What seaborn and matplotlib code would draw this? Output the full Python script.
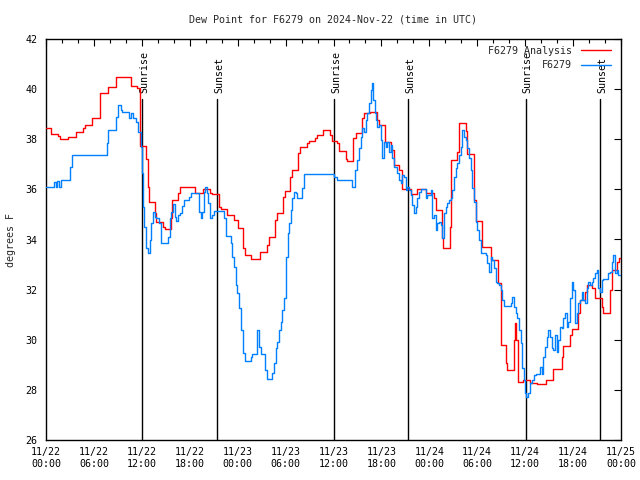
import matplotlib
matplotlib.use("Agg")
import matplotlib.pyplot as plt
import matplotlib.dates as mdates
import seaborn as sns
import pandas as pd

START = pd.Timestamp("2024-11-22 00:00")

# F6279 Analysis (hours since start, dew point F)
analysis_hours = [
    0.0, 0.66, 1.5, 1.75, 2.75, 3.72, 4.67, 4.85, 5.8, 6.7, 6.76, 7.76, 8.73,
    10.68, 11.43, 11.73, 12.56, 12.81, 12.9, 13.61, 13.81, 14.65, 14.86, 15.61,
    15.82, 16.53, 16.78, 18.62, 19.66, 20.5, 20.82, 21.66, 21.88, 22.7, 23.54,
    24.04, 24.67, 24.88, 25.71, 26.8, 27.64, 27.92, 28.64, 28.89, 29.64, 29.89,
    30.55, 30.84, 31.56, 31.81, 32.64, 32.93, 33.65, 33.9, 34.72, 35.56, 35.85,
    36.48, 36.69, 37.53, 37.73, 38.48, 38.78, 39.61, 39.82, 40.57, 41.41, 41.7,
    42.45, 43.24, 43.58, 44.2, 44.62, 45.67, 46.5, 47.55, 48.59, 48.8, 49.62,
    49.75, 50.55, 50.68, 51.5, 51.72, 52.55, 52.76, 53.59, 53.8, 54.55, 55.76,
    56.6, 56.94, 57.56, 57.76, 58.6, 58.73, 58.9, 59.1, 59.69, 60.6, 61.45,
    62.6, 63.52, 64.57, 64.78, 65.62, 65.83, 66.66, 66.87, 67.49, 67.7, 68.33,
    68.75, 69.58, 69.79, 70.63, 70.84, 71.54, 71.79, 71.9,
]
analysis_dewpt = [
    38.44, 38.2, 38.13, 38.0, 38.08, 38.3, 38.44, 38.57, 38.84, 39.63, 39.83,
    40.07, 40.47, 40.14, 40.03, 37.73, 37.2, 36.08, 35.48, 35.04, 34.71, 34.5,
    34.42, 34.85, 35.58, 35.85, 36.08, 35.87, 36.0, 35.87, 35.8, 35.31, 35.2,
    34.98, 34.78, 34.47, 33.65, 33.38, 33.22, 33.49, 33.78, 34.09, 34.78, 35.04,
    35.71, 35.93, 36.5, 36.77, 37.44, 37.68, 37.84, 37.94, 38.04, 38.17, 38.37,
    38.17, 37.93, 37.84, 37.53, 37.2, 37.13, 38.04, 38.26, 38.84, 39.03, 39.07,
    38.77, 38.57, 37.9, 37.57, 36.97, 36.77, 36.01, 35.8, 36.0, 35.84, 35.64,
    35.18, 34.05, 33.67, 34.51, 37.17, 37.5, 38.64, 38.34, 37.41, 35.58, 34.74,
    33.69, 33.18, 32.25, 29.79, 29.08, 28.79, 29.99, 30.65, 29.99, 28.32, 28.4,
    28.26, 28.22, 28.39, 28.82, 29.32, 29.75, 30.19, 30.43, 31.05, 31.58, 31.92,
    32.18, 32.05, 31.65, 31.32, 31.05, 31.98, 32.78, 33.11, 33.25, 33.25,
]

# F6279 observations
obs_hours = [
    0.0, 1.0, 1.21, 1.42, 1.63, 1.84, 3.0, 3.29, 7.6, 7.76, 8.73, 9.02, 9.35,
    9.55, 10.39, 10.68, 10.93, 11.23, 11.52, 11.86, 11.98, 12.15, 12.27, 12.56,
    12.77, 13.02, 13.19, 13.44, 13.61, 13.81, 14.15, 14.36, 15.28, 15.53, 15.69,
    15.94, 16.11, 16.28, 16.53, 16.78, 17.07, 17.28, 17.91, 18.12, 19.16, 19.37,
    19.57, 19.78, 19.91, 20.12, 20.32, 20.54, 20.82, 21.04, 22.29, 22.5, 23.13,
    23.33, 23.54, 23.75, 23.88, 24.17, 24.46, 24.67, 24.88, 25.63, 25.83, 26.46,
    26.67, 26.88, 27.38, 27.64, 28.34, 28.55, 28.76, 28.96, 29.18, 29.39, 29.59,
    29.8, 30.01, 30.3, 30.43, 30.64, 30.84, 31.05, 31.27, 31.47, 32.09, 32.31,
    36.06, 36.4, 38.35, 38.65, 38.9, 39.19, 39.4, 39.61, 39.82, 40.03, 40.24,
    40.45, 40.66, 40.86, 40.99, 41.16, 41.29, 41.49, 41.7, 41.91, 42.11, 42.32,
    42.54, 42.74, 42.95, 43.16, 43.36, 43.58, 43.99, 44.2, 44.42, 44.62, 44.83,
    45.04, 45.24, 45.45, 45.66, 45.86, 46.08, 46.29, 46.5, 46.71, 46.92, 47.55,
    47.75, 48.17, 48.37, 48.58, 48.8, 49.0, 49.21, 49.42, 49.62, 49.83, 50.04,
    50.25, 50.46, 50.68, 50.88, 51.09, 51.3, 51.5, 51.72, 51.93, 52.13, 52.34,
    52.55, 52.76, 52.97, 53.18, 53.38, 53.59, 53.8, 54.0, 54.21, 54.42, 55.05,
    55.26, 55.47, 55.67, 55.88, 56.1, 56.3, 56.5, 56.72, 56.94, 57.14, 57.35,
    58.19, 58.39, 58.6, 58.81, 59.02, 59.23, 59.44, 59.64, 59.86, 60.0, 60.1,
    60.4, 60.61, 60.82, 61.11, 61.36, 61.86, 62.07, 62.28, 62.49, 62.69, 62.9,
    63.11, 63.32, 63.53, 63.74, 63.95, 64.15, 64.36, 64.57, 64.78, 64.99, 65.2,
    65.41, 65.62, 65.83, 66.03, 66.24, 66.45, 66.66, 66.87, 67.08, 67.29, 67.49,
    67.7, 67.91, 68.12, 68.33, 68.54, 68.75, 68.95, 69.16, 69.37, 69.58, 69.79,
    70.41, 70.62, 70.83, 71.04, 71.25, 71.46, 71.67, 71.88,
]
obs_dewpt = [
    36.08, 36.31, 36.08, 36.34, 36.08, 36.37, 36.9, 37.37, 37.84, 38.37, 38.9,
    39.37, 39.17, 39.07, 38.84, 39.04, 38.84, 38.7, 38.3, 37.7, 36.64, 35.31,
    34.51, 33.65, 33.47, 33.98, 34.65, 35.11, 34.91, 34.85, 34.65, 33.86, 34.11,
    34.85, 35.11, 35.42, 34.88, 34.75, 34.98, 35.04, 35.34, 35.58, 35.71, 35.84,
    35.11, 34.85, 35.11, 35.91, 36.08, 35.84, 35.44, 34.85, 34.98, 35.14, 34.85,
    34.14, 33.85, 33.31, 32.91, 32.18, 31.85, 31.25, 30.39, 29.46, 29.15, 29.32,
    29.42, 30.39, 29.72, 29.42, 28.79, 28.43, 28.66, 29.06, 29.66, 29.92, 30.39,
    30.7, 31.19, 31.65, 33.31, 34.25, 34.65, 35.18, 35.64, 35.91, 35.84, 35.67,
    36.04, 36.61, 36.5, 36.37, 36.08, 36.77, 37.17, 37.64, 38.1, 38.44, 38.3,
    38.77, 39.04, 39.43, 39.96, 40.23, 39.57, 39.04, 38.77, 38.5, 38.57, 37.97,
    37.24, 37.9, 37.7, 37.9, 37.5, 37.77, 37.24, 36.9, 36.64, 36.37, 36.24,
    36.57, 36.5, 35.97, 36.11, 35.97, 35.77, 35.38, 35.04, 35.31, 35.64, 35.9,
    36.0, 35.64, 35.77, 35.97, 34.85, 34.98, 34.38, 34.65, 34.71, 34.58, 34.05,
    35.04, 35.31, 35.44, 35.58, 35.64, 35.97, 36.5, 36.84, 37.04, 37.37, 37.7,
    38.37, 38.1, 37.97, 37.64, 37.24, 36.77, 36.04, 35.51, 34.71, 34.38, 33.98,
    33.45, 33.38, 33.05, 32.71, 33.31, 33.18, 32.85, 32.31, 32.25, 32.18, 31.98,
    31.58, 31.35, 31.45, 31.69, 31.32, 31.05, 30.85, 30.39, 29.86, 28.86, 28.4,
    27.86, 27.7, 27.86, 28.26, 28.39, 28.59, 28.63, 28.92, 28.63, 29.32, 29.72,
    30.12, 30.39, 30.12, 29.66, 29.59, 30.19, 29.52, 29.99, 30.52, 30.45, 30.85,
    31.05, 30.52, 30.72, 31.65, 32.31, 31.98, 30.65, 31.05, 31.45, 31.58, 31.92,
    31.58, 31.45, 32.05, 32.31, 32.18, 32.31, 32.45, 32.65, 32.78, 32.05, 31.92,
    32.38, 32.41, 32.68, 32.72, 33.11, 33.38, 32.65, 32.78, 32.58, 32.58,
]

# sunrise / sunset markers (hours since start)
sun_hours = [12.06, 21.45, 36.1, 45.37, 60.07, 69.41]
sun_labels = ["Sunrise", "Sunset", "Sunrise", "Sunset", "Sunrise", "Sunset"]

y_ticks = [26, 28, 30, 32, 34, 36, 38, 40, 42]

sns.set_theme(style="white")
plt.rcParams["font.family"] = ["DejaVu Sans Mono"]
plt.rcParams["font.size"] = 7.2

df_a = pd.DataFrame({"time": START + pd.to_timedelta(analysis_hours, unit="h"),
                     "dewpt": analysis_dewpt})
df_o = pd.DataFrame({"time": START + pd.to_timedelta(obs_hours, unit="h"),
                     "dewpt": obs_dewpt})

fig = plt.figure(figsize=(6.4, 4.8), dpi=100)
ax = fig.add_axes([46 / 640, 40 / 480, 575 / 640, 401 / 480])

for h, lab in zip(sun_hours, sun_labels):
    t = START + pd.Timedelta(hours=h)
    ax.plot([t, t], [26, 39.6], color="black", lw=1.0, zorder=1)
    ax.text(t + pd.Timedelta(hours=0.25), 39.85, lab, rotation=90,
            ha="center", va="bottom", fontsize=7.2, color="black", zorder=1)

sns.lineplot(data=df_a, x="time", y="dewpt", ax=ax, color="#ff0000", lw=1.0,
             drawstyle="steps-post", estimator=None, sort=False,
             label="F6279 Analysis", zorder=3)
sns.lineplot(data=df_o, x="time", y="dewpt", ax=ax, color="#0080ff", lw=1.0,
             drawstyle="steps-post", estimator=None, sort=False,
             label="F6279", zorder=4)

ax.set_xlim(START, START + pd.Timedelta(hours=72))
ax.set_ylim(26, 42)
ax.set_yticks(y_ticks)
ax.xaxis.set_major_locator(mdates.HourLocator(byhour=[0, 6, 12, 18]))
ax.xaxis.set_minor_locator(mdates.HourLocator(byhour=range(0, 24, 2)))
ax.xaxis.set_major_formatter(mdates.DateFormatter("%m/%d\n%H:%M"))

ax.tick_params(axis="both", which="both", direction="in", top=True, right=True,
               colors="black", labelsize=7.2)
ax.tick_params(axis="both", which="major", length=5, width=0.8)
ax.tick_params(axis="x", which="minor", length=3, width=0.8)
ax.tick_params(axis="x", which="major", pad=5)
ax.tick_params(axis="y", which="major", pad=6)
for lab in ax.get_xticklabels():
    lab.set_ha("center")
for s in ax.spines.values():
    s.set_color("black")
    s.set_linewidth(1.0)

ax.set_xlabel("")
ax.set_ylabel("")
fig.text(11 / 640, 0.5, "degrees F", rotation=90, ha="center", va="center",
         fontsize=7.2)
fig.text(333 / 640, 1 - 20 / 480, "Dew Point for F6279 on 2024-Nov-22 (time in UTC)",
         ha="center", va="center", fontsize=7.2)

leg = ax.legend(loc="upper right", frameon=False, markerfirst=False,
                handlelength=3.0, handletextpad=0.9, labelspacing=0.45,
                borderaxespad=0.3, fontsize=7.2, bbox_to_anchor=(0.995, 1.0))

fig.savefig("out.png", dpi=100)
